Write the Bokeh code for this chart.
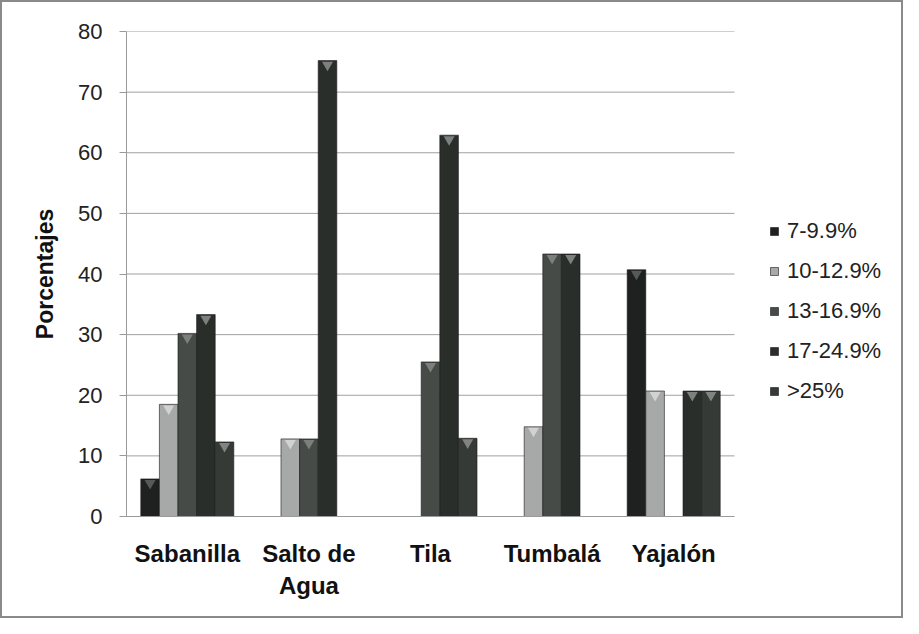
from bokeh.plotting import figure
from bokeh.models import ColumnDataSource, Legend, LegendItem, Range1d, FixedTicker
from bokeh.transform import dodge
from bokeh.embed import file_html
from bokeh.resources import INLINE

categories = ["Sabanilla", "Salto de\nAgua", "Tila", "Tumbalá", "Yajalón"]
series_names = ["7-9.9%", "10-12.9%", "13-16.9%", "17-24.9%", ">25%"]
s_7_99 = [6.2, 0, 0, 0, 40.7]
s_10_129 = [18.5, 12.8, 0, 14.8, 20.7]
s_13_169 = [30.2, 12.8, 25.5, 43.3, 0]
s_17_249 = [33.3, 75.2, 62.9, 43.3, 20.7]
s_gt25 = [12.3, 0, 12.9, 0, 20.7]
y_ticks = [0, 10, 20, 30, 40, 50, 60, 70, 80]

colors = ["#1e211f", "#a6a9a7", "#464b47", "#2a2e2b", "#353a37"]
cap_colors = ["#6a6e6b", "#dfe2e0", "#8e928f", "#9a9e9b", "#9a9e9b"]
series = [s_7_99, s_10_129, s_13_169, s_17_249, s_gt25]

n = len(categories)
centers = [i + 0.5 for i in range(n)]

# frame spans 5 category slots (608 px) plus room on the right for the legend
W, ML, MR = 903, 124, 8
frame_w = W - ML - MR
x_end = n * frame_w / 608.0

p = figure(width=W, height=618, x_range=Range1d(0, x_end), y_range=Range1d(0, 80),
           output_backend="svg", toolbar_location=None,
           min_border_left=ML, min_border_right=MR, min_border_top=29, min_border_bottom=104)
p.outline_line_color = None
p.styles = {"border": "2px solid #8a8a8a"}

# horizontal gridlines limited to the category area
p.segment(x0=[0] * len(y_ticks), x1=[n] * len(y_ticks), y0=y_ticks, y1=y_ticks,
          line_color="#a0a0a0", line_width=1)

bw = 0.153
items = []
for i, name in enumerate(series_names):
    xs = [c + (i - 2) * bw for c in centers]
    src = ColumnDataSource(dict(x=xs, top=series[i]))
    r = p.vbar(x="x", top="top", width=bw, source=src,
               fill_color=colors[i], line_color="#1a1a1a", line_width=0.6)
    items.append(LegendItem(label=name, renderers=[r]))
    # lighter cylinder cap at the top of each non-empty bar
    keep = [k for k, v in enumerate(series[i]) if v > 0]
    cap_src = ColumnDataSource(dict(x=[xs[k] for k in keep], top=[series[i][k] for k in keep]))
    p.scatter(x="x", y=dodge("top", -0.7), source=cap_src, marker="inverted_triangle",
              size=11, fill_color=cap_colors[i], fill_alpha=0.75, line_color=None)

legend = Legend(items=items, location=(643, 112), orientation="vertical",
                border_line_color=None, background_fill_alpha=0,
                label_text_font="Liberation Sans", label_text_font_size="22px",
                label_text_color="#222222", glyph_width=10, glyph_height=10,
                spacing=14, padding=0, margin=0, label_standoff=8)
p.add_layout(legend, "center")

p.yaxis.ticker = FixedTicker(ticks=y_ticks)
p.yaxis.axis_label = "Porcentajes"
p.yaxis.axis_label_text_font = "Liberation Sans"
p.yaxis.axis_label_text_font_style = "bold"
p.yaxis.axis_label_text_font_size = "23px"
p.yaxis.axis_label_text_color = "#111111"
p.yaxis.axis_label_standoff = 17
p.yaxis.major_label_text_font = "Liberation Sans"
p.yaxis.major_label_text_font_size = "22px"
p.yaxis.major_label_text_color = "#222222"
p.yaxis.major_label_standoff = 17
p.yaxis.major_tick_out = 7
p.yaxis.major_tick_in = 0
p.yaxis.minor_tick_out = 0
p.yaxis.minor_tick_in = 0
p.yaxis.axis_line_color = "#9a9a9a"
p.yaxis.major_tick_line_color = "#9a9a9a"

p.xaxis.bounds = (0, n)
p.xaxis.ticker = FixedTicker(ticks=centers)
p.xaxis.major_label_overrides = {c: lab for c, lab in zip(centers, categories)}
p.xaxis.major_label_text_font = "Liberation Sans"
p.xaxis.major_label_text_font_style = "bold"
p.xaxis.major_label_text_font_size = "24px"
p.xaxis.major_label_text_color = "#111111"
p.xaxis.major_label_standoff = 17
p.xaxis.axis_line_color = "#9a9a9a"
p.xaxis.major_tick_line_color = None
p.xaxis.minor_tick_line_color = None

p.xgrid.grid_line_color = None
p.ygrid.grid_line_color = None

open("out.html", "w").write(file_html(p, INLINE))
